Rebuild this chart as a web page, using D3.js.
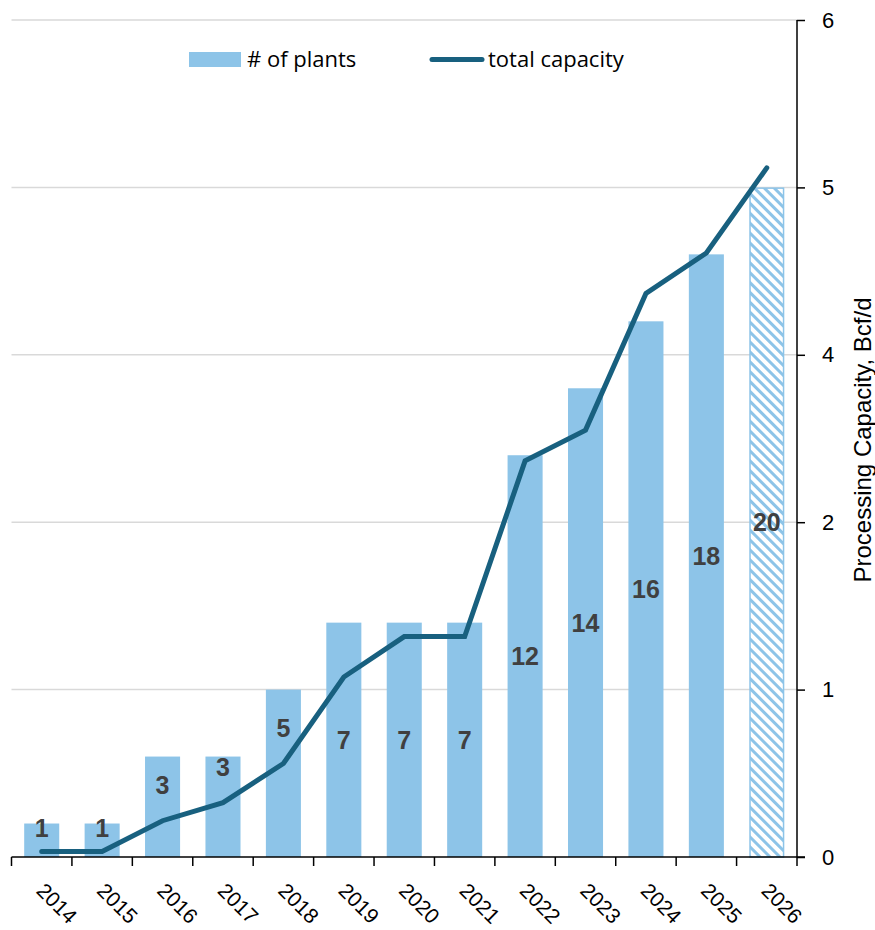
<!DOCTYPE html>
<html>
<head>
<meta charset="utf-8">
<script src="https://cdn.jsdelivr.net/npm/d3@7"></script>
<style>
  html, body { margin: 0; padding: 0; background: #fff; }
  svg { display: block; }
</style>
</head>
<body>
<div id="chart"></div>
<script>
// Gas processing plants: count of plants and total processing capacity by year
const years = ["2014","2015","2016","2017","2018","2019","2020","2021","2022","2023","2024","2025","2026"];
const plantCounts = [1, 1, 3, 3, 5, 7, 7, 7, 12, 14, 16, 18, 20];
const capacityBcfd = [0.04, 0.04, 0.26, 0.39, 0.67, 1.29, 1.58, 1.58, 2.84, 3.06, 4.04, 4.33, 4.94];
const projectedYears = ["2026"];
const capacityTicks = [0, 1.2, 2.4, 3.6, 4.8, 6];
const plantAxisMax = 25;
const capacityAxisMax = 6;
const seriesNames = ["# of plants", "total capacity"];
const axisTitle = "Processing Capacity, Bcf/d";

const W = 875, H = 930;
const plot = { left: 11.5, right: 797, top: 20, bottom: 857 };
const barColor = "#8DC4E8";
const lineColor = "#18607F";
const gridColor = "#D9D9D9";
const labelColor = "#404040";

const svg = d3.select("#chart").append("svg")
  .attr("width", W).attr("height", H)
  .attr("viewBox", `0 0 ${W} ${H}`);

// diagonal hatch for projected bars
const defs = svg.append("defs");
const pat = defs.append("pattern")
  .attr("id", "hatch")
  .attr("patternUnits", "userSpaceOnUse")
  .attr("width", 7).attr("height", 7)
  .attr("patternTransform", "rotate(-45)");
pat.append("rect").attr("width", 7).attr("height", 7).attr("fill", "#fff");
pat.append("rect").attr("x", 0).attr("y", 0).attr("width", 3).attr("height", 7).attr("fill", barColor);

const x = d3.scaleBand()
  .domain(years)
  .range([plot.left, plot.right])
  .paddingInner(0.42)
  .paddingOuter(0.21);

const yPlants = d3.scaleLinear().domain([0, plantAxisMax]).range([plot.bottom, plot.top]);
const yCap = d3.scaleLinear().domain([0, capacityAxisMax]).range([plot.bottom, plot.top]);

// horizontal gridlines at the capacity ticks
svg.append("g")
  .selectAll("line")
  .data(capacityTicks.filter(t => t > 0))
  .join("line")
  .attr("x1", plot.left).attr("x2", plot.right)
  .attr("y1", d => yCap(d)).attr("y2", d => yCap(d))
  .attr("stroke", gridColor).attr("stroke-width", 1.5);

// bars: number of plants
const rows = years.map((yr, i) => ({ year: yr, plants: plantCounts[i], cap: capacityBcfd[i], projected: projectedYears.includes(yr) }));

svg.append("g")
  .selectAll("rect")
  .data(rows)
  .join("rect")
  .attr("x", d => x(d.year) + (d.projected ? 0.75 : 0))
  .attr("width", d => x.bandwidth() - (d.projected ? 1.5 : 0))
  .attr("y", d => yPlants(d.plants) + (d.projected ? 0.75 : 0))
  .attr("height", d => plot.bottom - yPlants(d.plants) - (d.projected ? 0.75 : 0))
  .attr("fill", d => d.projected ? "url(#hatch)" : barColor)
  .attr("stroke", d => d.projected ? barColor : "none")
  .attr("stroke-width", 1.5);

// x axis baseline and ticks between categories
const xAxisG = svg.append("g");
xAxisG.append("line")
  .attr("x1", plot.left).attr("x2", plot.right + 8)
  .attr("y1", plot.bottom).attr("y2", plot.bottom)
  .attr("stroke", "#000").attr("stroke-width", 1.5);
const boundaries = years.map(yr => x(yr) - x.step() * x.paddingInner() / 2);
boundaries.push(plot.right);
xAxisG.selectAll("line.tick")
  .data(boundaries)
  .join("line")
  .attr("class", "tick")
  .attr("x1", d => d).attr("x2", d => d)
  .attr("y1", plot.bottom).attr("y2", plot.bottom + 9)
  .attr("stroke", "#000").attr("stroke-width", 1.5);
xAxisG.selectAll("text")
  .data(years)
  .join("text")
  .attr("transform", d => `translate(${x(d) + x.bandwidth() / 2 - 6.5},${892}) rotate(45)`)
  .attr("font-family", "'Liberation Sans', Arial, sans-serif")
  .attr("font-size", 21)
  .attr("fill", "#000")
  .attr("text-anchor", "start")
  .text(d => d);

// right axis: capacity
const rightAxis = d3.axisRight(yCap)
  .tickValues(capacityTicks)
  .tickFormat(d3.format(".0f"))
  .tickSize(8)
  .tickPadding(17);
const ra = svg.append("g")
  .attr("transform", `translate(${plot.right},0)`)
  .call(rightAxis);
ra.select(".domain").attr("stroke", "#000").attr("stroke-width", 1.5)
  .attr("d", `M0,${plot.top}V${plot.bottom}`);
ra.selectAll(".tick line").attr("stroke", "#000").attr("stroke-width", 1.5);
ra.selectAll(".tick text")
  .attr("font-family", "'Liberation Sans', Arial, sans-serif")
  .attr("font-size", 22)
  .attr("fill", "#000");

svg.append("text")
  .attr("transform", `translate(871,440) rotate(-90)`)
  .attr("text-anchor", "middle")
  .attr("font-family", "'Liberation Sans', Arial, sans-serif")
  .attr("font-size", 24)
  .attr("fill", "#000")
  .text(axisTitle);

// capacity line
const line = d3.line()
  .x(d => x(d.year) + x.bandwidth() / 2)
  .y(d => yCap(d.cap));
svg.append("path")
  .datum(rows)
  .attr("d", line)
  .attr("fill", "none")
  .attr("stroke", lineColor)
  .attr("stroke-width", 5)
  .attr("stroke-linejoin", "miter")
  .attr("stroke-linecap", "round");

// plant-count labels, centred in the bar, lifted above the line when they would collide
svg.append("g")
  .selectAll("text")
  .data(rows)
  .join("text")
  .attr("x", d => x(d.year) + x.bandwidth() / 2)
  .attr("y", d => {
    const top = yPlants(d.plants);
    const mid = (top + plot.bottom) / 2;
    const ly = yCap(d.cap);
    let y = mid;
    if (Math.abs(mid - ly) < 30) y = Math.max(ly - 36, top + 4);
    return y;
  })
  .attr("dy", "0.36em")
  .attr("text-anchor", "middle")
  .attr("font-family", "'Liberation Sans', Arial, sans-serif")
  .attr("font-weight", "bold")
  .attr("font-size", 25)
  .attr("fill", labelColor)
  .text(d => d.plants);

// legend
const lg = svg.append("g").attr("font-family", "'Open Sans', sans-serif").attr("font-size", 22).attr("fill", "#000");
lg.append("rect").attr("x", 189).attr("y", 52).attr("width", 52).attr("height", 15).attr("fill", barColor);
lg.append("text").attr("x", 247).attr("y", 59.5).attr("dy", "0.35em").text(seriesNames[0]);
lg.append("line").attr("x1", 432).attr("x2", 482).attr("y1", 59.5).attr("y2", 59.5)
  .attr("stroke", lineColor).attr("stroke-width", 5).attr("stroke-linecap", "round");
lg.append("text").attr("x", 488).attr("y", 59.5).attr("dy", "0.35em").text(seriesNames[1]);
</script>
</body>
</html>
